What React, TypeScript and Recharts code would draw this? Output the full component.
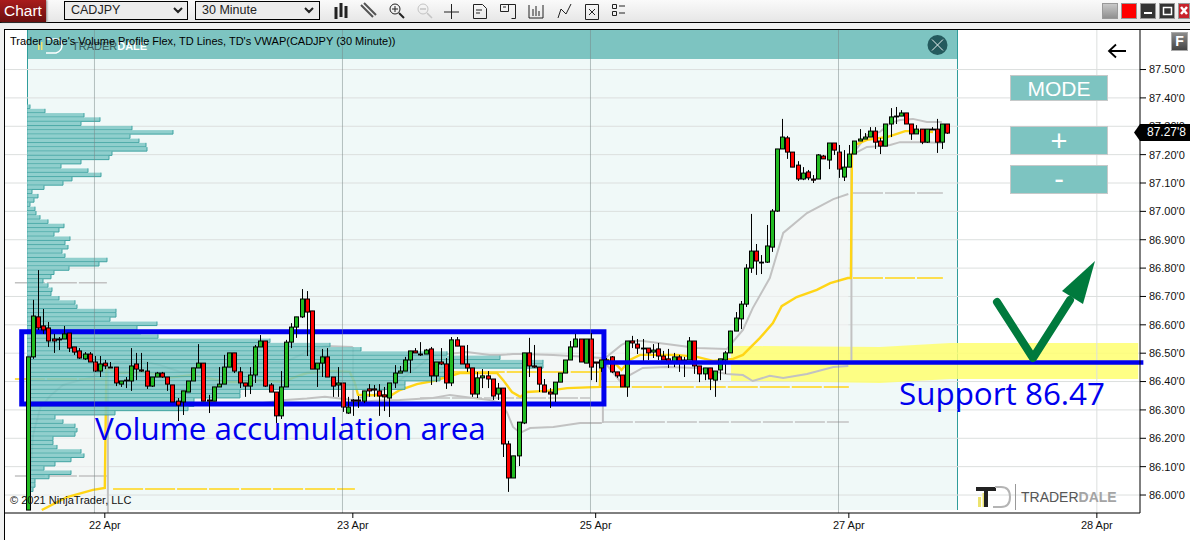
import { Area, Bar, CartesianGrid, ComposedChart, Line, ReferenceArea, ReferenceLine, XAxis, YAxis } from "recharts";

// bar index domain, one 30 minute candle per index
const indexDomain = [-4.316, 215.35];
const priceDomain = [85.9366, 87.6394];
const priceTicks = [86, 86.1, 86.2, 86.3, 86.4, 86.5, 86.6, 86.7, 86.8, 86.9, 87, 87.1, 87.2, 87.3, 87.4, 87.5];
const dayTicks = [15, 63, 110, 159, 207];
const dayLabels = ["22 Apr", "23 Apr", "25 Apr", "27 Apr", "28 Apr"];
const dayLines = [13, 61, 109, 157];
const lastDayLine = 207;

const opens = [
  85.947, 86.487, 86.628, 86.596, 86.589, 86.55, 86.55, 86.55, 86.571, 86.522, 86.508, 86.48, 86.497, 86.469, 86.437, 86.465, 86.451, 86.451, 86.391, 86.402,
  86.402, 86.462, 86.441, 86.437, 86.384, 86.416, 86.43, 86.416, 86.388, 86.331, 86.328, 86.363, 86.402, 86.448, 86.465, 86.335, 86.331, 86.381, 86.391, 86.451,
  86.501, 86.434, 86.395, 86.384, 86.423, 86.522, 86.543, 86.388, 86.363, 86.279, 86.381, 86.539, 86.592, 86.628, 86.691, 86.649, 86.444, 86.465, 86.487, 86.416,
  86.388, 86.395, 86.289, 86.335, 86.335, 86.331, 86.374, 86.374, 86.367, 86.353, 86.342, 86.395, 86.43, 86.437, 86.476, 86.508, 86.497, 86.497, 86.515, 86.42,
  86.469, 86.462, 86.395, 86.547, 86.525, 86.462, 86.448, 86.356, 86.413, 86.42, 86.409, 86.356, 86.377, 86.18, 86.06, 86.138, 86.254, 86.501, 86.455, 86.451,
  86.388, 86.363, 86.356, 86.398, 86.43, 86.476, 86.522, 86.55, 86.465, 86.55, 86.469, 86.448, 86.476, 86.487, 86.434, 86.423, 86.381, 86.543, 86.532, 86.518,
  86.518, 86.504, 86.515, 86.49, 86.48, 86.469, 86.487, 86.476, 86.476, 86.543, 86.455, 86.427, 86.448, 86.405, 86.441, 86.476, 86.501, 86.578, 86.621, 86.673,
  86.8, 86.86, 86.821, 86.821, 86.874, 87.001, 87.22, 87.259, 87.209, 87.163, 87.114, 87.139, 87.114, 87.114, 87.195, 87.181, 87.241, 87.209, 87.121, 87.156,
  87.202, 87.248, 87.255, 87.262, 87.283, 87.248, 87.23, 87.308, 87.333, 87.336, 87.347, 87.308, 87.273, 87.29, 87.244, 87.29, 87.29, 87.244, 87.308,
];
const highs = [
  86.487, 86.688, 86.793, 86.656, 86.61, 86.568, 86.557, 86.596, 86.571, 86.522, 86.518, 86.504, 86.504, 86.49, 86.49, 86.476, 86.469, 86.451, 86.402, 86.416,
  86.518, 86.501, 86.501, 86.469, 86.416, 86.434, 86.434, 86.416, 86.388, 86.342, 86.367, 86.402, 86.448, 86.532, 86.465, 86.353, 86.381, 86.451, 86.494, 86.501,
  86.501, 86.451, 86.395, 86.451, 86.529, 86.564, 86.543, 86.395, 86.363, 86.437, 86.547, 86.606, 86.628, 86.726, 86.719, 86.649, 86.465, 86.515, 86.518, 86.416,
  86.451, 86.395, 86.346, 86.338, 86.349, 86.367, 86.391, 86.388, 86.391, 86.381, 86.395, 86.458, 86.455, 86.487, 86.508, 86.518, 86.539, 86.515, 86.522, 86.469,
  86.518, 86.483, 86.557, 86.557, 86.525, 86.529, 86.448, 86.434, 86.444, 86.437, 86.409, 86.395, 86.377, 86.191, 86.138, 86.257, 86.501, 86.554, 86.529, 86.451,
  86.409, 86.377, 86.398, 86.43, 86.476, 86.543, 86.568, 86.55, 86.55, 86.571, 86.469, 86.476, 86.483, 86.49, 86.434, 86.423, 86.543, 86.561, 86.55, 86.55,
  86.518, 86.532, 86.536, 86.508, 86.515, 86.501, 86.494, 86.487, 86.557, 86.543, 86.455, 86.448, 86.448, 86.437, 86.48, 86.508, 86.579, 86.645, 86.684, 86.814,
  86.991, 86.885, 86.846, 86.952, 87.008, 87.22, 87.326, 87.266, 87.209, 87.177, 87.156, 87.146, 87.128, 87.202, 87.199, 87.241, 87.241, 87.234, 87.216, 87.234,
  87.248, 87.29, 87.276, 87.297, 87.297, 87.259, 87.308, 87.364, 87.368, 87.357, 87.347, 87.308, 87.304, 87.29, 87.29, 87.297, 87.326, 87.308, 87.308,
];
const lows = [
  85.947, 86.48, 86.582, 86.568, 86.522, 86.501, 86.511, 86.55, 86.504, 86.494, 86.48, 86.476, 86.469, 86.434, 86.416, 86.444, 86.448, 86.384, 86.381, 86.377,
  86.367, 86.405, 86.434, 86.374, 86.381, 86.416, 86.413, 86.367, 86.328, 86.261, 86.282, 86.363, 86.402, 86.448, 86.331, 86.289, 86.331, 86.381, 86.391, 86.451,
  86.43, 86.377, 86.346, 86.356, 86.395, 86.522, 86.381, 86.363, 86.254, 86.268, 86.381, 86.518, 86.554, 86.624, 86.49, 86.444, 86.381, 86.416, 86.416, 86.346,
  86.346, 86.293, 86.286, 86.279, 86.307, 86.324, 86.346, 86.346, 86.279, 86.296, 86.275, 86.377, 86.43, 86.437, 86.43, 86.501, 86.49, 86.497, 86.388, 86.398,
  86.458, 86.374, 86.384, 86.525, 86.462, 86.434, 86.346, 86.342, 86.377, 86.377, 86.335, 86.335, 86.134, 86.011, 86.06, 86.102, 86.25, 86.416, 86.448, 86.363,
  86.363, 86.307, 86.328, 86.398, 86.43, 86.476, 86.522, 86.469, 86.465, 86.405, 86.398, 86.434, 86.465, 86.43, 86.413, 86.381, 86.346, 86.518, 86.497, 86.472,
  86.476, 86.483, 86.476, 86.476, 86.448, 86.451, 86.434, 86.416, 86.476, 86.427, 86.398, 86.405, 86.37, 86.346, 86.405, 86.427, 86.501, 86.578, 86.585, 86.663,
  86.783, 86.776, 86.779, 86.818, 86.857, 86.998, 87.22, 87.185, 87.156, 87.107, 87.11, 87.11, 87.1, 87.114, 87.185, 87.149, 87.199, 87.118, 87.107, 87.156,
  87.202, 87.248, 87.255, 87.262, 87.22, 87.202, 87.23, 87.262, 87.308, 87.336, 87.308, 87.252, 87.273, 87.237, 87.241, 87.287, 87.206, 87.22, 87.273,
];
const closes = [
  86.487, 86.631, 86.589, 86.582, 86.543, 86.543, 86.547, 86.568, 86.518, 86.504, 86.483, 86.497, 86.469, 86.437, 86.462, 86.455, 86.448, 86.395, 86.402, 86.405,
  86.455, 86.444, 86.437, 86.384, 86.416, 86.43, 86.416, 86.391, 86.328, 86.317, 86.367, 86.402, 86.448, 86.465, 86.331, 86.331, 86.381, 86.391, 86.451, 86.501,
  86.437, 86.395, 86.384, 86.423, 86.522, 86.543, 86.384, 86.363, 86.279, 86.381, 86.539, 86.592, 86.628, 86.691, 86.645, 86.444, 86.465, 86.487, 86.416, 86.384,
  86.395, 86.31, 86.31, 86.331, 86.331, 86.367, 86.367, 86.37, 86.349, 86.346, 86.395, 86.43, 86.437, 86.476, 86.508, 86.501, 86.494, 86.511, 86.42, 86.469,
  86.462, 86.395, 86.547, 86.525, 86.462, 86.448, 86.356, 86.413, 86.42, 86.409, 86.349, 86.377, 86.18, 86.06, 86.138, 86.257, 86.501, 86.455, 86.451, 86.391,
  86.363, 86.356, 86.398, 86.43, 86.476, 86.522, 86.55, 86.469, 86.55, 86.451, 86.465, 86.476, 86.472, 86.434, 86.42, 86.381, 86.543, 86.536, 86.518, 86.515,
  86.501, 86.511, 86.49, 86.476, 86.469, 86.487, 86.472, 86.472, 86.543, 86.455, 86.427, 86.448, 86.409, 86.437, 86.48, 86.501, 86.578, 86.624, 86.673, 86.8,
  86.86, 86.825, 86.818, 86.878, 87.001, 87.22, 87.262, 87.209, 87.156, 87.114, 87.135, 87.118, 87.11, 87.199, 87.185, 87.241, 87.216, 87.149, 87.156, 87.202,
  87.248, 87.255, 87.262, 87.283, 87.244, 87.23, 87.308, 87.333, 87.336, 87.347, 87.308, 87.273, 87.29, 87.244, 87.29, 87.287, 87.244, 87.308, 87.276,
];

// volume profile ladder on the left of the window
const profilePrices = [
  87.369, 87.354, 87.339, 87.324, 87.309, 87.294, 87.279, 87.264, 87.249, 87.234, 87.219, 87.204, 87.189, 87.174, 87.159, 87.144, 87.129, 87.114, 87.099, 87.084,
  87.069, 87.054, 87.039, 87.024, 87.009, 86.994, 86.979, 86.964, 86.949, 86.934, 86.919, 86.904, 86.889, 86.874, 86.859, 86.844, 86.829, 86.814, 86.799, 86.784,
  86.769, 86.754, 86.739, 86.724, 86.709, 86.694, 86.679, 86.664, 86.649, 86.634, 86.619, 86.604, 86.589, 86.574, 86.559, 86.544, 86.529, 86.514, 86.499, 86.484,
  86.469, 86.454, 86.439, 86.424, 86.409, 86.394, 86.379, 86.364, 86.349, 86.334, 86.319, 86.304, 86.289, 86.274, 86.259, 86.244, 86.229, 86.214, 86.199, 86.184,
  86.169, 86.154, 86.139, 86.124, 86.109, 86.094, 86.079, 86.064, 86.049, 86.034, 86.019,
];
const profileVolumes = [
  3, 18, 57, 73, 54, 105, 146, 103, 112, 119, 120, 85, 82, 54, 34, 61, 74, 45, 36, 17,
  5, 11, 7, 3, 8, 9, 13, 21, 37, 32, 27, 43, 38, 41, 35, 38, 80, 72, 42, 27,
  24, 16, 21, 25, 24, 32, 48, 50, 89, 89, 83, 130, 110, 114, 131, 243, 303, 334, 420, 473,
  516, 516, 419, 419, 413, 378, 378, 213, 213, 167, 167, 161, 88, 28, 36, 48, 50, 48, 26, 26,
  30, 54, 57, 44, 28, 17, 44, 22, 8, 8, 6,
];

// gray bands of the session VWAP
const band1Index = [0.4, 1.1, 2.5, 4.4, 6.9, 10.2, 12.7, 15.4];
const band1Upper = [86.028, 86.212, 86.307, 86.349, 86.388, 86.405, 86.416, 86.448];
const band1Lower = [85.937, 85.937, 85.937, 85.937, 85.937, 85.937, 85.937, 85.937];
const band2Index = [16, 17, 23.2, 25.7, 29.6, 36.3, 41.2, 45.6, 49.9, 54.1, 57.6, 63];
const band2Upper = [86.451, 86.469, 86.469, 86.458, 86.434, 86.441, 86.465, 86.469, 86.469, 86.504, 86.525, 86.522];
const band2Lower = [86.324, 86.324, 86.324, 86.324, 86.324, 86.324, 86.324, 86.324, 86.335, 86.34, 86.346, 86.335];
const band3Index = [64, 67.3, 72.1, 78.5, 81.8, 85.1, 89.5, 91.5, 92.8, 94, 95.4, 97.3, 101.8, 107, 111.2];
const band3Upper = [86.342, 86.353, 86.405, 86.494, 86.498, 86.504, 86.494, 86.494, 86.495, 86.497, 86.497, 86.496, 86.494, 86.488, 86.483];
const band3Lower = [86.328, 86.332, 86.335, 86.342, 86.353, 86.345, 86.335, 86.324, 86.293, 86.24, 86.219, 86.236, 86.24, 86.254, 86.254];
const band4Index = [111.4, 115, 116.6, 119.1, 123.7, 129.6, 135.4, 138.5, 140.4, 143.7, 146.3, 150.9, 156, 158.9];
const band4Upper = [86.476, 86.529, 86.543, 86.543, 86.532, 86.518, 86.515, 86.582, 86.659, 86.765, 86.924, 86.994, 87.043, 87.061];
const band4Lower = [86.476, 86.395, 86.423, 86.448, 86.451, 86.448, 86.427, 86.423, 86.402, 86.42, 86.413, 86.427, 86.451, 86.455];
const band5Index = [159.6, 162.5, 165, 167, 168.9, 171.4, 174.1, 177];
const band5Upper = [87.199, 87.269, 87.28, 87.311, 87.322, 87.326, 87.315, 87.315];
const band5Lower = [87.199, 87.227, 87.23, 87.234, 87.244, 87.244, 87.244, 87.241];

// the jumps between sessions
const jumpIndex = [15.6, 63.05, 111.4, 159.5];
const jumpFrom = [86.448, 86.522, 86.254, 86.476];
const jumpTo = [85.937, 86.335, 86.476, 87.199];

const vwapIndex = [
  2.8, 7.7, 12.7, 15, 15.3, 15.6, 17.4, 23.2, 27, 32.1, 34.8, 38.7, 41.2, 45, 49.5, 51.4, 54.1, 58.6, 62.4, 63.4, 64, 65.7, 70.2, 72.1, 75.4, 78.5, 81.2, 83.7, 90.9,
  92.1, 93.8, 95.4, 96.7, 100.6, 104.5, 110.8, 111, 112.4, 114.1, 115, 116.6, 118.6, 125.7, 129.6, 132.7, 136.6, 138.5, 141.8, 144.3, 146, 148.9, 152.8, 155.4, 158.8,
  159.4, 159.6, 160.2, 162.5, 166.4, 169.9, 172.8, 175.3,
];
const vwapValues = [
  85.947, 85.993, 86.018, 86.025, 86.448, 86.448, 86.43, 86.434, 86.413, 86.423, 86.413, 86.398, 86.398, 86.405, 86.398, 86.413, 86.43, 86.437, 86.434, 86.395, 86.353, 86.353, 86.349, 86.37, 86.391, 86.402, 86.416, 86.43, 86.43,
  86.405, 86.363, 86.346, 86.363, 86.367, 86.377, 86.381, 86.476, 86.476, 86.458, 86.441, 86.476, 86.494, 86.494, 86.487, 86.473, 86.48, 86.494, 86.554, 86.606, 86.666, 86.698, 86.723, 86.747, 86.765,
  86.765, 87.199, 87.234, 87.252, 87.262, 87.283, 87.283, 87.28,
];

// thin level lines left by each session
const yellowLevelStart = [-2.4, 16.6, 80.4, 110.8, 159.8];
const yellowLevelEnd = [15.4, 63.4, 110.8, 159, 177.2];
const yellowLevelPrice = [86.409, 86.021, 86.434, 86.381, 86.765];
const grayLevelStart = [-2.4, -2.4, 76, 111.4, 159.8];
const grayLevelEnd = [15.4, 15.4, 108.9, 159, 177.2];
const grayLevelPrice = [86.748, 86.067, 86.342, 86.257, 87.065];

// hand drawn annotations
const zoneIndex = [136.2, 141.8, 165, 178.6, 215];
const zoneTop = [86.525, 86.525, 86.522, 86.536, 86.536];
const zoneBottom = [86.402, 86.402, 86.395, 86.409, 86.409];
const boxLeft = -1.08;
const boxRight = 111.6;
const boxTop = 86.576;
const boxBottom = 86.321;
const supportStart = 111.6;
const supportEnd = 216;
const supportPrice = 86.467;

const candles = opens.map((open, i) => ({ i, open, high: highs[i], low: lows[i], close: closes[i] }));
const profile = profilePrices.map((price, i) => ({ price, volume: profileVolumes[i] }));

const toBand = (xs: number[], upper: number[], lower: number[]) =>
  xs.map((i, n) => ({ i, upper: upper[n], lower: lower[n] }));
const bands = [
  toBand(band1Index, band1Upper, band1Lower),
  toBand(band2Index, band2Upper, band2Lower),
  toBand(band3Index, band3Upper, band3Lower),
  toBand(band4Index, band4Upper, band4Lower),
  toBand(band5Index, band5Upper, band5Lower),
];
const vwap = vwapIndex.map((i, n) => ({ i, value: vwapValues[n] }));
const zone = zoneIndex.map((i, n) => ({ i, upper: zoneTop[n], lower: zoneBottom[n] }));
const jumps = jumpIndex.map((i, n) => [
  { i, value: jumpFrom[n] },
  { i, value: jumpTo[n] },
]);
const toLevels = (starts: number[], ends: number[], prices: number[]) =>
  starts.map((i, n) => [
    { i, value: prices[n] },
    { i: ends[n], value: prices[n] },
  ]);
const yellowLevels = toLevels(yellowLevelStart, yellowLevelEnd, yellowLevelPrice);
const grayLevels = toLevels(grayLevelStart, grayLevelEnd, grayLevelPrice);

const FONT = '"Liberation Sans", Arial, sans-serif';
const HAND_FONT = '"Open Sans", sans-serif';
const TEAL = "#7dc4c1";
const GRID = "#dcdfde";
const BAND_LINE = "#c2c2c2";
const VWAP_LINE = "#ffd516";
const BLUE = "#0000ee";
const LAYER = { position: "absolute", left: 0, top: 0 } as const;

function Candle(props: any) {
  const { x, y, width, height, payload } = props;
  const { open, high, low, close } = payload;
  const top = Math.min(y, y + height);
  const ratio = Math.abs(height) / (high - low);
  const cx = Math.round(x + width / 2) + 0.5;
  const bodyTop = top + (high - Math.max(open, close)) * ratio;
  const bodyBottom = top + (high - Math.min(open, close)) * ratio;
  return (
    <g>
      <line x1={cx} x2={cx} y1={top} y2={top + Math.abs(height)} stroke="#000" strokeWidth={1} />
      <rect
        x={cx - 2}
        y={bodyTop}
        width={4}
        height={Math.max(bodyBottom - bodyTop, 0.6)}
        fill={close >= open ? "#22bb22" : "#ff0000"}
        stroke="#000"
        strokeWidth={1}
      />
    </g>
  );
}

function ProfileBar(props: any) {
  const { x, y, width, height } = props;
  return (
    <g>
      <rect x={x} y={y} width={width} height={height} fill="#7fc8c5" fillOpacity={0.85} />
      <line x1={x} x2={x + width} y1={y + height} y2={y + height} stroke="#3fa3a1" strokeWidth={1} />
      <line x1={x + width} x2={x + width} y1={y} y2={y + height} stroke="#3fa3a1" strokeWidth={1} />
    </g>
  );
}

function Chrome() {
  const box = { position: "absolute", background: TEAL, border: "1px solid #c6c9c9", boxSizing: "border-box", color: "#fff", textAlign: "center", fontFamily: FONT } as const;
  const combo = { position: "absolute", top: 1, height: 19, background: "#ececec", border: "1px solid #000", boxSizing: "border-box", fontFamily: FONT, fontSize: 12.5, lineHeight: "17px", paddingLeft: 6, color: "#222" } as const;
  return (
    <>
      <div style={{ position: "absolute", left: 0, top: 0, width: 1190, height: 22, background: "linear-gradient(#fafafa, #e6e6e6)" }} />
      <div style={{ position: "absolute", left: 0, top: 22, width: 1190, height: 1, background: "#000" }} />
      <div style={{ position: "absolute", left: 0, top: 23, width: 1190, height: 6, background: "#f0f1f1" }} />
      <div style={{ position: "absolute", left: 0, top: 23, width: 4, height: 517, background: "#f0f1f1" }} />
      <div style={{ position: "absolute", left: 4, top: 29, width: 1186, height: 1, background: "#000" }} />
      <div style={{ position: "absolute", left: 4, top: 29, width: 1, height: 511, background: "#000" }} />
      <div style={{ position: "absolute", left: 0, top: 0, width: 46, height: 22, background: "linear-gradient(#a81c1c, #6b0f0f)", boxShadow: "1px 0 2px #888", color: "#fff", fontFamily: FONT, fontSize: 15.5, lineHeight: "21px", paddingLeft: 4, boxSizing: "border-box" }}>Chart</div>
      <div style={{ ...combo, left: 64, width: 124 }}>CADJPY</div>
      <div style={{ ...combo, left: 195, width: 125 }}>30 Minute</div>
      <svg width={1190} height={22} style={{ position: "absolute", left: 0, top: 0 }} fill="none" stroke="#222">
        <path d="M174 8l4 4 4-4M305 8l4 4 4-4" strokeWidth={2} />
        <path d="M336 10v12M341 6v14M346 9v12" strokeWidth={3} transform="translate(0,-3)" />
        <path d="M361 5l12 12M364 3l12 12" strokeWidth={2} stroke="#555" />
        <circle cx={395} cy={9} r={5} />
        <path d="M399 13l5 5" strokeWidth={2} />
        <path d="M392 9h6M395 6v6" />
        <circle cx={423} cy={9} r={5} stroke="#c4c4c4" />
        <path d="M427 13l5 5M420 9h6" stroke="#c4c4c4" strokeWidth={1.5} />
        <path d="M444 12h15M451.500 4v15" />
        <path d="M473.500 4.500h9l4 4v10h-13zM476 10h6M476 13h4" />
        <path d="M500.500 4.500h8v7h-8zM508 4.500h7.500v14h-4M503 7h3" />
        <path d="M529 5v13h14V5M533 16V9M536 16V6M539 16v-5" />
        <path d="M558 18l3-9 5 5 5-10" />
        <path d="M585.500 4.500h13v15h-13zM589 9l6 6M595 9l-6 6" />
        <path d="M612.500 4.500h4v4h-4zM612.500 11.500h4v4h-4zM619 6h6M619 13h6" />
      </svg>
      <div style={{ position: "absolute", left: 1102, top: 3, width: 16, height: 16, background: "linear-gradient(#c8c8c8, #8f8f8f)", border: "1px solid #999", boxSizing: "border-box" }} />
      <div style={{ position: "absolute", left: 1121, top: 3, width: 16, height: 16, background: "#ff0000", border: "1px solid #999", boxSizing: "border-box" }} />
      <div style={{ position: "absolute", left: 1140, top: 3, width: 16, height: 16, background: "#333", border: "1px solid #999", boxSizing: "border-box" }} />
      <div style={{ position: "absolute", left: 1159, top: 3, width: 16, height: 16, background: "#333", border: "1px solid #999", boxSizing: "border-box" }} />
      <div style={{ position: "absolute", left: 1178, top: 3, width: 12, height: 16, background: "#c8232b", border: "1px solid #999", boxSizing: "border-box" }} />
      <svg width={1190} height={22} style={{ position: "absolute", left: 0, top: 0 }} stroke="#fff" fill="none">
        <path d="M1144 13h8" strokeWidth={2} />
        <path d="M1163.500 7.500h8v7h-8z" strokeWidth={1.5} />
        <path d="M1181 7l6 7M1187 7l-6 7" strokeWidth={2.5} />
      </svg>

      <div style={{ ...box, left: 1010, top: 75, width: 98, height: 26, fontSize: 21, lineHeight: "25px" }}>MODE</div>
      <div style={{ ...box, left: 1010, top: 126, width: 98, height: 29, fontSize: 29, lineHeight: "29px" }}>+</div>
      <div style={{ ...box, left: 1010, top: 165, width: 98, height: 29, fontSize: 29, lineHeight: "27px" }}>-</div>
      <div style={{ position: "absolute", left: 1171, top: 32, width: 17, height: 19, background: "linear-gradient(#8b8b8b, #444)", border: "1px solid #aaa", boxSizing: "border-box", color: "#fff", fontFamily: FONT, fontSize: 14, fontWeight: 700, textAlign: "center", lineHeight: "17px" }}>F</div>
      <svg width={1190} height={540} style={{ position: "absolute", left: 0, top: 0 }} fill="none">
        <path d="M1126 51h-16M1116 44.500l-7 6.500 7 6.500" stroke="#000" strokeWidth={1.8} />
        <circle cx={937.500} cy={45} r={10} fill="#245a5d" />
        <path d="M932 39.500l11 11M943 39.500l-11 11" stroke="#e8f0f0" />
        <path d="M1134 132.500l6-8.500h50v17h-50z" fill="#000" />
        <path d="M997 302L1033 358L1070 300" stroke="#007a3d" strokeWidth={8} strokeLinecap="round" strokeLinejoin="round" />
        <path d="M1062 291L1095 261L1083 304z" fill="#007a3d" />
        <path d="M38 50h1.500v-6H38zM41 50h1.500v-8H41z" fill="#f5e26a" />
        <path d="M46 39h10q6 0 6 6t-6 8h-10" stroke="#fff" strokeWidth={1.5} />
        <path d="M978 507v-10h3v10zM982.500 507v-14h3v14z" fill="#ece36e" />
        <path d="M980 489h20M990 489v18" stroke="#222" strokeWidth={4} transform="translate(-4,0)" />
        <path d="M995 487h6q9 0 9 10t-9 10h-8" stroke="#b4b4b4" strokeWidth={2} />
        <path d="M1015.500 484v26" stroke="#999" />
      </svg>
      <div style={{ position: "absolute", left: 1147, top: 125, fontFamily: FONT, fontSize: 12, lineHeight: "15px", color: "#fff" }}>87.27'8</div>
      <div style={{ position: "absolute", left: 72, top: 39, fontFamily: FONT, fontSize: 11, lineHeight: "15px", color: "#3c5a5a" }}>TRADER<span style={{ color: "#fff", fontWeight: 700 }}>DALE</span></div>
      <div style={{ position: "absolute", left: 10, top: 34, fontFamily: FONT, fontSize: 11, lineHeight: "14px", color: "#000", whiteSpace: "nowrap" }}>Trader Dale's Volume Profile Flex, TD Lines, TD's VWAP(CADJPY (30 Minute))</div>
      <div style={{ position: "absolute", left: 10, top: 493, fontFamily: FONT, fontSize: 11, lineHeight: "14px", color: "#111" }}>© 2021 NinjaTrader, LLC</div>
      <div style={{ position: "absolute", left: 1021, top: 489, fontFamily: FONT, fontSize: 14, lineHeight: "17px", color: "#555" }}>TRADER<span style={{ color: "#a4a4a4", fontWeight: 700 }}>DALE</span></div>
      <div style={{ position: "absolute", left: 95, top: 406, fontFamily: HAND_FONT, fontSize: 31.4, lineHeight: "44px", color: BLUE, whiteSpace: "nowrap" }}>Volume accumulation area</div>
      <div style={{ position: "absolute", left: 899, top: 371, fontFamily: HAND_FONT, fontSize: 31.4, lineHeight: "44px", color: BLUE, whiteSpace: "nowrap" }}>Support 86.47</div>
    </>
  );
}

export default function App() {
  return (
    <div style={{ position: "absolute", left: 0, top: 0, width: 1190, height: 540, background: "#fff", overflow: "hidden" }}>
      <div style={{ position: "absolute", left: 27, top: 30, width: 931, height: 480, background: "#f0f9f8", borderLeft: "1px solid #2f9d9b", borderRight: "1px solid #2f9d9b", boxSizing: "border-box" }} />
      <div style={{ position: "absolute", left: 27, top: 30, width: 931, height: 29, background: TEAL, borderLeft: "1px solid #2f9d9b", borderRight: "1px solid #2f9d9b", boxSizing: "border-box" }} />

      {/* bands and session lines lie under the volume profile */}
      <div style={LAYER}>
        <ComposedChart width={1190} height={540} data={candles} margin={{ top: 30, right: 50, bottom: 27, left: 5 }}>
          <CartesianGrid vertical={false} horizontalValues={priceTicks} stroke={GRID} />
          <XAxis type="number" dataKey="i" domain={indexDomain} allowDataOverflow hide />
          <YAxis type="number" domain={priceDomain} ticks={priceTicks} allowDataOverflow hide />
          {bands.map((band, n) => (
            <Area
              key={n}
              data={band}
              dataKey={(d: any) => [d.lower, d.upper]}
              type="linear"
              stroke="none"
              fill="#f5f5f5"
              dot={false}
              activeDot={false}
              isAnimationActive={false}
            />
          ))}
          <Area
            data={zone}
            dataKey={(d: any) => [d.lower, d.upper]}
            type="linear"
            stroke="none"
            fill="#ffff70"
            fillOpacity={0.85}
            dot={false}
            activeDot={false}
            isAnimationActive={false}
          />
          {bands.map((band, n) => (
            <Line key={n} data={band} dataKey="upper" type="linear" stroke={BAND_LINE} strokeWidth={2} dot={false} activeDot={false} isAnimationActive={false} />
          ))}
          {bands.slice(1).map((band, n) => (
            <Line key={n} data={band} dataKey="lower" type="linear" stroke={BAND_LINE} strokeWidth={2} dot={false} activeDot={false} isAnimationActive={false} />
          ))}
          {jumps.map((jump, n) => (
            <Line key={n} data={jump} dataKey="value" type="linear" stroke={BAND_LINE} strokeWidth={2} dot={false} activeDot={false} isAnimationActive={false} />
          ))}
          {grayLevels.map((level, n) => (
            <Line key={n} data={level} dataKey="value" type="linear" stroke={BAND_LINE} strokeWidth={1.5} strokeDasharray="30 2" dot={false} activeDot={false} isAnimationActive={false} />
          ))}
          {yellowLevels.map((level, n) => (
            <Line key={n} data={level} dataKey="value" type="linear" stroke={VWAP_LINE} strokeWidth={1.5} strokeDasharray="30 2" dot={false} activeDot={false} isAnimationActive={false} />
          ))}
          <Line data={vwap} dataKey="value" type="linear" stroke={VWAP_LINE} strokeWidth={2.4} dot={false} activeDot={false} isAnimationActive={false} />
        </ComposedChart>
      </div>

      <div style={LAYER}>
        <ComposedChart width={1190} height={540} layout="vertical" data={profile} margin={{ top: 30, right: 50, bottom: 27, left: 5 }}>
          <XAxis type="number" dataKey="volume" domain={[-22, 1113]} allowDataOverflow hide />
          <YAxis type="number" dataKey="price" domain={priceDomain} reversed allowDataOverflow hide />
          <Bar dataKey="volume" barSize={4} shape={ProfileBar} isAnimationActive={false} />
        </ComposedChart>
      </div>

      <div style={LAYER}>
        <ComposedChart width={1190} height={540} data={candles} margin={{ top: 30, right: 0, bottom: 0, left: 5 }}>
          <XAxis
            type="number"
            dataKey="i"
            domain={indexDomain}
            ticks={dayTicks}
            interval={0}
            allowDataOverflow
            height={27}
            tickSize={5}
            tickMargin={3}
            stroke="#000"
            tick={{ fontSize: 11, fontFamily: FONT, fill: "#111" }}
            tickFormatter={(v: number) => dayLabels[dayTicks.indexOf(v)]}
          />
          <YAxis
            type="number"
            orientation="right"
            domain={priceDomain}
            ticks={priceTicks}
            interval={0}
            allowDataOverflow
            width={50}
            tickSize={6}
            tickMargin={3}
            stroke="#000"
            tick={{ fontSize: 11, fontFamily: FONT, fill: "#111" }}
            tickFormatter={(v: number) => `${v.toFixed(2)}'0`}
          />
          {dayLines.map((i) => (
            <ReferenceLine key={i} x={i} stroke="#77858580" strokeWidth={1} />
          ))}
          <ReferenceLine x={lastDayLine} stroke={GRID} strokeWidth={1} />

          <Bar dataKey={(d: any) => [d.low, d.high]} barSize={4} shape={Candle} isAnimationActive={false} />

          <ReferenceArea x1={boxLeft} x2={boxRight} y1={boxBottom} y2={boxTop} fill="none" stroke={BLUE} strokeWidth={5} />
          <ReferenceLine
            segment={[
              { x: supportStart, y: supportPrice },
              { x: supportEnd, y: supportPrice },
            ]}
            ifOverflow="visible"
            stroke={BLUE}
            strokeWidth={4.5}
          />
        </ComposedChart>
      </div>

      <Chrome />
    </div>
  );
}
